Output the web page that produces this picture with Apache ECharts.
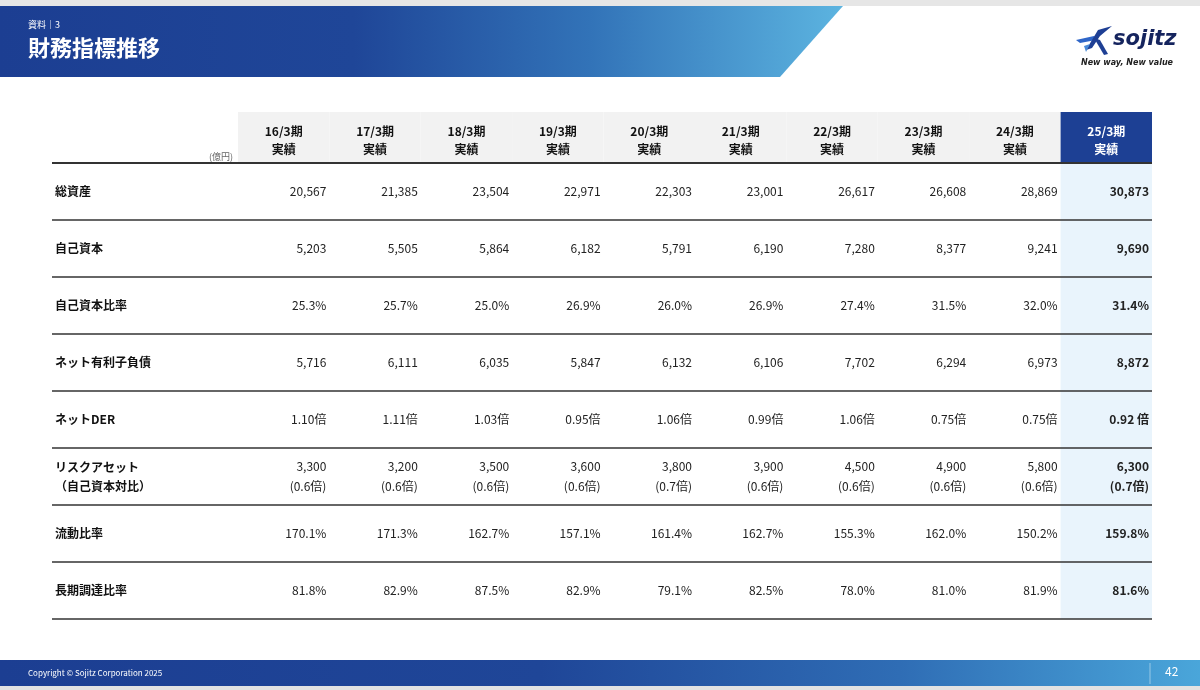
<!DOCTYPE html>
<html>
<head>
<meta charset="utf-8">
<script src="https://cdn.jsdelivr.net/npm/echarts@6/dist/echarts.min.js"></script>
<style>
html, body { margin: 0; padding: 0; background: #fff; }
#main { width: 1200px; height: 690px; }
</style>
</head>
<body>
<div id="main"></div>
<script>
var chart = echarts.init(document.getElementById('main'));

var FONT = '"Noto Sans CJK JP", "Noto Sans", sans-serif';

var periods = ['16/3期', '17/3期', '18/3期', '19/3期', '20/3期', '21/3期', '22/3期', '23/3期', '24/3期', '25/3期'];
var rowNames = ['総資産', '自己資本', '自己資本比率', 'ネット有利子負債', 'ネットDER', 'リスクアセット\n（自己資本対比）', '流動比率', '長期調達比率'];

var totalAssets = [20567, 21385, 23504, 22971, 22303, 23001, 26617, 26608, 28869, 30873];
var equity = [5203, 5505, 5864, 6182, 5791, 6190, 7280, 8377, 9241, 9690];
var equityRatio = [25.3, 25.7, 25.0, 26.9, 26.0, 26.9, 27.4, 31.5, 32.0, 31.4];
var netDebt = [5716, 6111, 6035, 5847, 6132, 6106, 7702, 6294, 6973, 8872];
var netDER = [1.10, 1.11, 1.03, 0.95, 1.06, 0.99, 1.06, 0.75, 0.75, 0.92];
var riskAsset = [3300, 3200, 3500, 3600, 3800, 3900, 4500, 4900, 5800, 6300];
var riskMultiple = [0.6, 0.6, 0.6, 0.6, 0.7, 0.6, 0.6, 0.6, 0.6, 0.7];
var currentRatio = [170.1, 171.3, 162.7, 157.1, 161.4, 162.7, 155.3, 162.0, 150.2, 159.8];
var longTermRatio = [81.8, 82.9, 87.5, 82.9, 79.1, 82.5, 78.0, 81.0, 81.9, 81.6];

var last = periods.length - 1;

function num(v) { return v.toLocaleString('en-US'); }
function pct(v) { return v.toFixed(1) + '%'; }

// build cell texts
var cells = [];
periods.forEach(function (p, i) {
  var der = netDER[i].toFixed(2) + (i === last ? ' 倍' : '倍');
  var texts = [
    num(totalAssets[i]),
    num(equity[i]),
    pct(equityRatio[i]),
    num(netDebt[i]),
    der,
    num(riskAsset[i]) + '\n(' + riskMultiple[i].toFixed(1) + '倍)',
    pct(currentRatio[i]),
    pct(longTermRatio[i])
  ];
  texts.forEach(function (t, r) {
    cells.push({ col: i, row: r, text: t, bold: i === last });
  });
});

var cellData = cells.map(function (c) { return [c.col, c.row]; });
var headerData = periods.map(function (p, i) { return [i, 0]; });
var rowLineData = rowNames.map(function (n, r) { return [0, r]; });
var hiData = rowNames.map(function (n, r) { return [last, r]; });

option = {
  animation: false,
  grid: { left: 238, right: 48, top: 163, bottom: 71 },
  xAxis: {
    type: 'category',
    data: periods,
    boundaryGap: true,
    axisLine: { show: false },
    axisTick: { show: false },
    axisLabel: { show: false },
    splitLine: { show: false }
  },
  yAxis: {
    type: 'category',
    data: rowNames,
    inverse: true,
    axisLine: { show: false },
    axisTick: { show: false },
    splitLine: { show: false },
    axisLabel: {
      align: 'left',
      margin: 183,
      fontFamily: FONT,
      fontWeight: 'bold',
      fontSize: 12,
      lineHeight: 19,
      color: '#111'
    }
  },
  series: [
    {
      // highlighted last column background
      type: 'custom',
      data: hiData,
      z: 1,
      renderItem: function (params, api) {
        var c = api.coord([api.value(0), api.value(1)]);
        var s = api.size([1, 1]);
        return {
          type: 'rect',
          shape: { x: c[0] - s[0] / 2, y: c[1] - s[1] / 2, width: s[0], height: s[1] },
          style: { fill: '#e9f4fc' }
        };
      }
    },
    {
      // header cells above the grid
      type: 'custom',
      data: headerData,
      z: 2,
      clip: false,
      renderItem: function (params, api) {
        var i = api.value(0);
        var c = api.coord([i, 0]);
        var s = api.size([1, 1]);
        var top = params.coordSys.y;
        var isLast = i === last;
        return {
          type: 'group',
          children: [
            {
              type: 'rect',
              shape: { x: c[0] - s[0] / 2, y: top - 51, width: s[0], height: 51 },
              style: { fill: isLast ? '#1d4094' : '#f2f2f2' }
            },
            {
              type: 'text',
              style: {
                x: c[0], y: top - 23,
                text: periods[i] + '\n実績',
                align: 'center', verticalAlign: 'middle',
                font: 'bold 12px ' + FONT,
                lineHeight: 18,
                fill: isLast ? '#fff' : '#111'
              }
            }
          ]
        };
      }
    },
    {
      // horizontal rules under each row (and the header rule)
      type: 'custom',
      data: rowLineData,
      z: 3,
      clip: false,
      renderItem: function (params, api) {
        var r = api.value(1);
        var c = api.coord([0, r]);
        var s = api.size([1, 1]);
        var x1 = params.coordSys.x - 186;
        var x2 = params.coordSys.x + params.coordSys.width;
        var y = c[1] + s[1] / 2;
        var children = [{
          type: 'line',
          shape: { x1: x1, y1: y, x2: x2, y2: y },
          style: { stroke: '#333', lineWidth: 1.3 }
        }];
        if (r === 0) {
          var yt = c[1] - s[1] / 2;
          children.push({
            type: 'line',
            shape: { x1: x1, y1: yt, x2: x2, y2: yt },
            style: { stroke: '#333', lineWidth: 2 }
          });
        }
        return { type: 'group', children: children };
      }
    },
    {
      // value cells
      type: 'custom',
      data: cellData,
      z: 4,
      renderItem: function (params, api) {
        var cell = cells[params.dataIndex];
        var c = api.coord([api.value(0), api.value(1)]);
        var s = api.size([1, 1]);
        return {
          type: 'text',
          style: {
            x: c[0] + s[0] / 2 - 3,
            y: c[1],
            text: cell.text,
            align: 'right', verticalAlign: 'middle',
            font: (cell.bold ? 'bold ' : '') + '12px ' + FONT,
            lineHeight: 20,
            fill: '#222'
          }
        };
      }
    }
  ],
  graphic: [
    { type: 'rect', shape: { x: 0, y: 0, width: 1200, height: 6 }, style: { fill: '#e6e6e6' }, silent: true },
    {
      type: 'polygon',
      shape: { points: [[0, 6], [843, 6], [780, 77], [0, 77]] },
      style: {
        fill: new echarts.graphic.LinearGradient(0, 0, 1, 0, [
          { offset: 0, color: '#1c3e92' },
          { offset: 0.42, color: '#1f4698' },
          { offset: 0.7, color: '#3273b8' },
          { offset: 1, color: '#5cb4e0' }
        ])
      },
      silent: true
    },
    { type: 'text', left: 28, top: 20, style: { text: '資料｜3', font: '9px ' + FONT, fill: '#fff' } },
    { type: 'text', left: 28, top: 37, style: { text: '財務指標推移', font: 'bold 22px ' + FONT, fill: '#fff' } },

    // logo
    {
      type: 'group', left: 1076, top: 26, silent: true,
      children: [
        { type: 'polygon', shape: { points: [[0, 14], [18, 10], [20, 14], [4, 17]] }, style: { fill: '#2f66c8' } },
        { type: 'polygon', shape: { points: [[10, 24], [22, 4], [36, 0], [24, 10], [16, 22]] }, style: { fill: '#1e3f94' } },
        { type: 'polygon', shape: { points: [[18, 12], [24, 14], [32, 28], [28, 29]] }, style: { fill: '#1e3f94' } },
        { type: 'polygon', shape: { points: [[8, 20], [14, 18], [10, 26]] }, style: { fill: '#4a8ad8' } }
      ]
    },
    { type: 'text', left: 1113, top: 29, style: { text: 'sojitz', font: 'italic bold 21px "DejaVu Sans", sans-serif', fill: '#15245e' } },
    { type: 'text', left: 1081, top: 59, style: { text: 'New way, New value', font: 'italic bold 8px "DejaVu Sans", sans-serif', fill: '#222' } },

    // unit
    { type: 'text', left: 209, top: 152, style: { text: '(億円)', font: '9px ' + FONT, fill: '#666' } },

    // footer
    {
      type: 'rect', shape: { x: 0, y: 660, width: 1200, height: 26 },
      style: {
        fill: new echarts.graphic.LinearGradient(0, 0, 1, 0, [
          { offset: 0, color: '#1c3e92' },
          { offset: 0.45, color: '#1f4698' },
          { offset: 0.75, color: '#2f6db5' },
          { offset: 1, color: '#4aa6da' }
        ])
      },
      silent: true
    },
    { type: 'rect', shape: { x: 0, y: 686, width: 1200, height: 4 }, style: { fill: '#e2e2e2' }, silent: true },
    { type: 'line', shape: { x1: 1150, y1: 663, x2: 1150, y2: 684 }, style: { stroke: 'rgba(255,255,255,0.45)', lineWidth: 1 }, silent: true },
    { type: 'text', left: 28, top: 669, style: { text: 'Copyright © Sojitz Corporation 2025', font: '8px ' + FONT, fill: '#fff' } },
    { type: 'text', left: 1165, top: 665, style: { text: '42', font: '12px ' + FONT, fill: '#fff' } }
  ]
};

chart.setOption(option);
window.onresize = chart.resize;
</script>
</body>
</html>
